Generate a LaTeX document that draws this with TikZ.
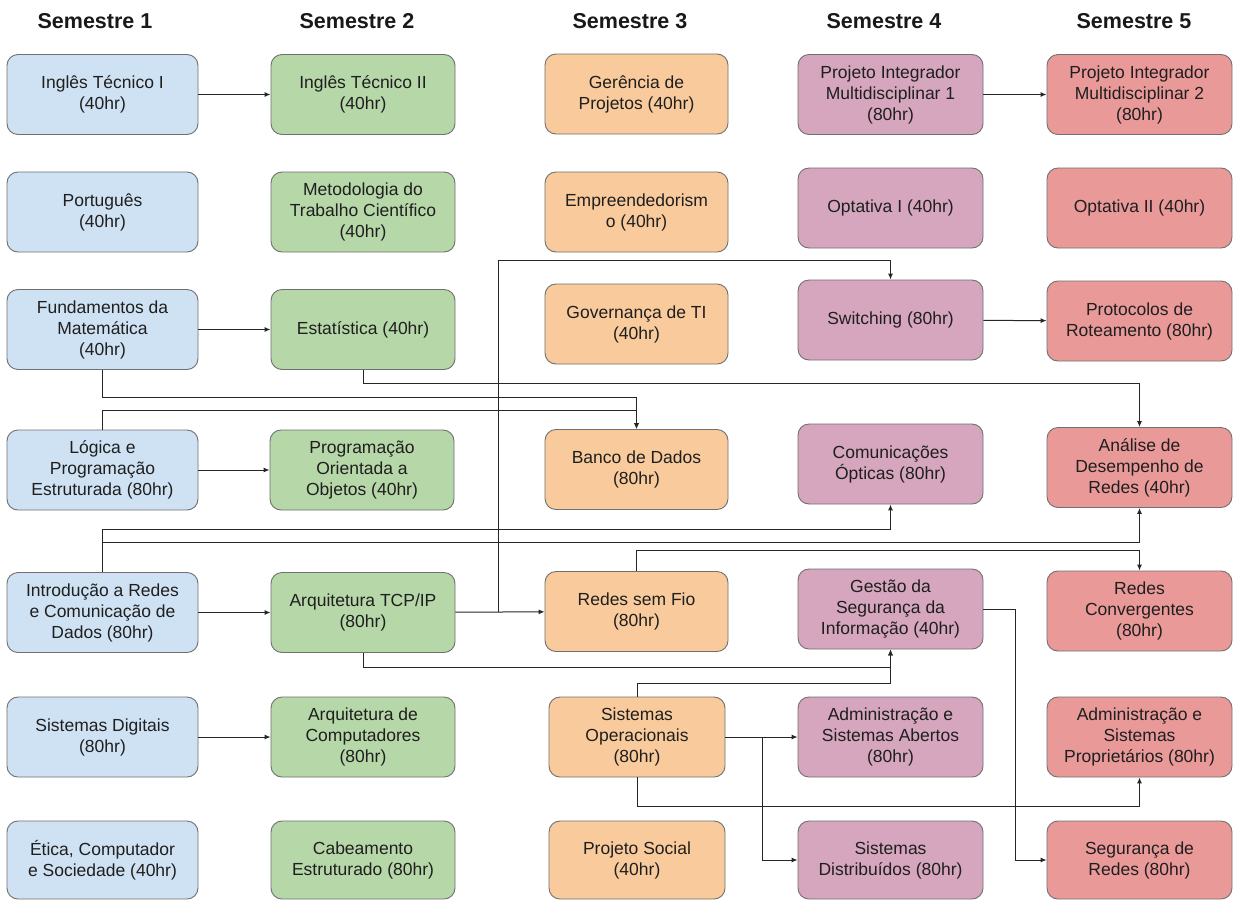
\documentclass[tikz,border=0pt]{standalone}
\usepackage{fontspec}
\setmainfont{Liberation Sans}
\usetikzlibrary{arrows.meta}
\definecolor{semone}{HTML}{CFE2F3}
\definecolor{semtwo}{HTML}{B6D7A8}
\definecolor{semthree}{HTML}{F9CB9C}
\definecolor{semfour}{HTML}{D5A6BD}
\definecolor{semfive}{HTML}{EA9999}
\definecolor{boxline}{HTML}{707070}
\tikzset{
	course/.style={draw=boxline, line width=0.9pt, rounded corners=11pt, align=center, inner sep=0pt, minimum height=80pt, text=black!88, font=\fontsize{17.5}{21}\selectfont},
	colone/.style={course, fill=semone, minimum width=191pt},
	coltwo/.style={course, fill=semtwo, minimum width=184pt},
	colthree/.style={course, fill=semthree, minimum width=183pt},
	colfour/.style={course, fill=semfour, minimum width=185pt},
	colfive/.style={course, fill=semfive, minimum width=185pt},
	semtitle/.style={font=\fontsize{21.5}{26}\selectfont\bfseries, text=black!90},
	link/.style={draw=black!85, line width=1pt, -{Latex[length=6pt,width=5pt]}}
}

\begin{document}
\begin{tikzpicture}[x=1pt, y=-1pt]
		%%%%% START %%%%%
		\path[use as bounding box, fill=white] (0,0) rectangle (1233,900);
		
		\node[semtitle] (titleone) at (95,21) {Semestre 1};
		\node[semtitle] (titletwo) at (357,21) {Semestre 2};
		\node[semtitle] (titlethree) at (630,21) {Semestre 3};
		\node[semtitle] (titlefour) at (884,21) {Semestre 4};
		\node[semtitle] (titlefive) at (1134,21) {Semestre 5};
		
		% semestre 1
		\node[colone] (ingone) at (102.5,94.5) {Inglês Técnico I\\(40hr)};
		\node[colone] (port) at (102.5,212) {Português\\(40hr)};
		\node[colone] (fund) at (102.5,329.5) {Fundamentos da\\Matemática\\(40hr)};
		\node[colone] (logica) at (102.5,470) {Lógica e\\Programação\\Estruturada (80hr)};
		\node[colone] (intro) at (102.5,612.5) {Introdução a Redes\\e Comunicação de\\Dados (80hr)};
		\node[colone] (sisdig) at (102.5,737) {Sistemas Digitais\\(80hr)};
		\node[colone, minimum height=78pt] (etica) at (102.5,860) {Ética, Computador\\e Sociedade (40hr)};
		
		% semestre 2
		\node[coltwo] (ingtwo) at (363,94.5) {Inglês Técnico II\\(40hr)};
		\node[coltwo] (metod) at (363,212) {Metodologia do\\Trabalho Científico\\(40hr)};
		\node[coltwo] (estat) at (363,329.5) {Estatística (40hr)};
		\node[coltwo] (poo) at (362,470) {Programação\\Orientada a\\Objetos (40hr)};
		\node[coltwo] (tcpip) at (363,612.5) {Arquitetura TCP/IP\\(80hr)};
		\node[coltwo] (arqcomp) at (363,737) {Arquitetura de\\Computadores\\(80hr)};
		\node[coltwo, minimum height=78pt] (cabe) at (363,860) {Cabeamento\\Estruturado (80hr)};
		
		% semestre 3
		\node[colthree] (gerencia) at (636.5,94) {Gerência de\\Projetos (40hr)};
		\node[colthree] (empreend) at (636.5,212) {Empreendedorism\\o (40hr)};
		\node[colthree] (govern) at (636.5,324) {Governança de TI\\(40hr)};
		\node[colthree] (banco) at (636.5,469.5) {Banco de Dados\\(80hr)};
		\node[colthree] (semfio) at (636.5,611.5) {Redes sem Fio\\(80hr)};
		\node[colthree, minimum width=176pt] (so) at (637,737) {Sistemas\\Operacionais\\(80hr)};
		\node[colthree, minimum width=176pt, minimum height=78pt] (social) at (637,860) {Projeto Social\\(40hr)};
		
		% semestre 4
		\node[colfour] (pione) at (890.5,94.5) {Projeto Integrador\\Multidisciplinar 1\\(80hr)};
		\node[colfour] (optone) at (890.5,208) {Optativa I (40hr)};
		\node[colfour] (switching) at (890.5,320) {Switching (80hr)};
		\node[colfour] (comopt) at (890.5,464) {Comunicações\\Ópticas (80hr)};
		\node[colfour] (gestao) at (890.5,609) {Gestão da\\Segurança da\\Informação (40hr)};
		\node[colfour] (admab) at (890.5,737) {Administração e\\Sistemas Abertos\\(80hr)};
		\node[colfour, minimum height=78pt] (sisdist) at (890.5,860) {Sistemas\\Distribuídos (80hr)};
		
		% semestre 5
		\node[colfive] (pitwo) at (1139.5,94.5) {Projeto Integrador\\Multidisciplinar 2\\(80hr)};
		\node[colfive] (opttwo) at (1139.5,208) {Optativa II (40hr)};
		\node[colfive] (protocolos) at (1139.5,321) {Protocolos de\\Roteamento (80hr)};
		\node[colfive] (analise) at (1139.5,467.5) {Análise de\\Desempenho de\\Redes (40hr)};
		\node[colfive] (redesconv) at (1139.5,611) {Redes\\Convergentes\\(80hr)};
		\node[colfive] (admprop) at (1139.5,737) {Administração e\\Sistemas\\Proprietários (80hr)};
		\node[colfive, minimum height=78pt] (segredes) at (1139.5,860) {Segurança de\\Redes (80hr)};
		
		% pre-requisitos
		\draw[link] (ingone) -- (ingtwo);
		\draw[link] (fund) -- (estat);
		\draw[link] (logica) -- (poo);
		\draw[link] (intro) -- (tcpip);
		\draw[link] (sisdig) -- (arqcomp);
		\draw[link] (pione) -- (pitwo);
		\draw[link] (switching) -- (protocolos);
		\draw[link] (tcpip) -- (semfio);
		\coordinate (tcpfork) at (498,612);
		\draw[link] (tcpfork) -- (498,260) -| (switching.north);
		\draw[link] (estat.south) -- ++(0,14) -| (analise.north);
		\draw[link] (fund.south) -- ++(0,28) -| (banco.north);
		\draw[link] (logica.north) -- ++(0,-19) -| (banco.north);
		\draw[link] (intro.north) -- ++(0,-43) -| (comopt.south);
		\draw[link] (intro.north) -- ++(0,-30) -| (analise.south);
		\draw[link] (semfio.north) -- ++(0,-21) -| (redesconv.north);
		\draw[link] (tcpip.south) -- ++(0,15) -| (gestao.south);
		\draw[link] (so.north) -- ++(0,-13) -| (gestao.south);
		\draw[link] (so) -- (admab);
		\coordinate (sofork) at (762,737);
		\draw[link] (sofork) |- (sisdist);
		\draw[link] (so.south) -- ++(0,29) -| (admprop.south);
		\draw[link] (gestao.east) -- ++(32,0) |- (segredes);
		%%%%% END %%%%%
	\end{tikzpicture}
\end{document}
